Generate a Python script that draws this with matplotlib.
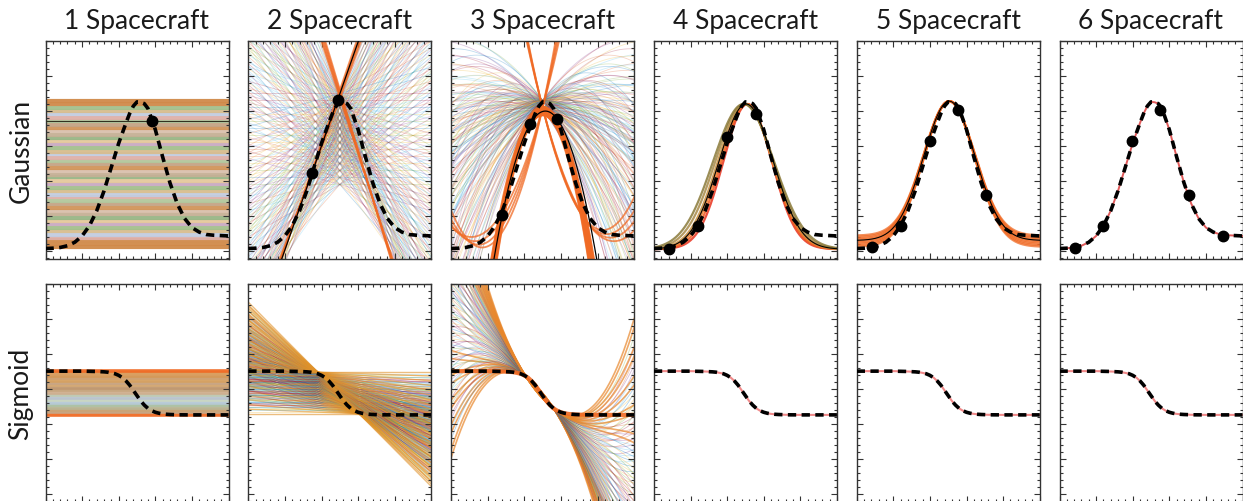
import numpy as np
import matplotlib
matplotlib.use("Agg")
import matplotlib.pyplot as plt
from matplotlib.ticker import MultipleLocator

# ---------------- data ----------------
titles = ["1 Spacecraft", "2 Spacecraft", "3 Spacecraft",
          "4 Spacecraft", "5 Spacecraft", "6 Spacecraft"]
row_labels = ["Gaussian", "Sigmoid"]

# true profiles (dashed)
gauss_x = [0.0, 0.2, 0.4, 0.6, 0.8, 1.0, 1.2, 1.4, 1.6, 1.8, 2.0, 2.2, 2.3, 2.4,
           2.5, 2.6, 2.7, 2.8, 3.0, 3.2, 3.4, 3.6, 3.8, 4.0, 4.2, 4.4, 4.6, 4.8, 5.0]
gauss_y = [0.07, 0.08, 0.10, 0.15, 0.25, 0.43, 0.72, 1.15, 1.72, 2.40, 3.08, 3.66, 3.93, 4.14,
           4.26, 4.25, 4.21, 4.07, 3.47, 2.69, 1.95, 1.35, 0.93, 0.67, 0.54, 0.47, 0.45, 0.44, 0.43]
sig_x = [0.0, 0.5, 1.0, 1.4, 1.6, 1.7, 1.8, 1.9, 2.0, 2.1, 2.2, 2.3, 2.4, 2.5, 2.6,
         2.7, 2.8, 2.9, 3.0, 3.1, 3.2, 3.3, 3.4, 3.6, 4.0, 4.5, 5.0]
sig_y = [3.51, 3.51, 3.51, 3.50, 3.49, 3.48, 3.46, 3.435, 3.39, 3.325, 3.23, 3.11, 2.96, 2.81, 2.66,
         2.54, 2.445, 2.38, 2.335, 2.307, 2.289, 2.278, 2.271, 2.263, 2.26, 2.26, 2.26]

# spacecraft samples (Gaussian row)
dots_x = [[2.91], [1.74, 2.44], [1.40, 2.16, 2.90],
          [0.41, 1.20, 2.00, 2.80],
          [0.41, 1.20, 2.00, 2.78, 3.52],
          [0.41, 1.18, 1.98, 2.75, 3.53, 4.47]]
dots_y = [[3.71], [2.23, 4.31], [1.04, 3.63, 3.77],
          [0.06, 0.72, 3.27, 3.92],
          [0.10, 0.72, 3.13, 4.04, 1.60],
          [0.09, 0.71, 3.14, 4.04, 1.60, 0.44]]

# ---- ensemble of fits, panel 1 (constant fits) ----
p1_gauss_levels = [0.10, 0.19, 0.30, 0.38, 0.47, 0.58, 0.66, 0.77, 0.86, 0.94, 1.05, 1.15, 1.23,
                   1.34, 1.42, 1.53, 1.61, 1.72, 1.80, 1.91, 2.00, 2.10, 2.18, 2.29, 2.37, 2.48,
                   2.57, 2.66, 2.76, 2.84, 2.95, 3.05, 3.13, 3.24, 3.32, 3.43, 3.52, 3.61, 3.71,
                   3.79, 3.90, 3.99, 4.08, 4.19, 4.29]
p1_gauss_best = 3.71
p1_sig_levels = [2.26, 2.33, 2.40, 2.47, 2.54, 2.61, 2.68, 2.75, 2.82, 2.89, 2.96, 3.03, 3.10,
                 3.17, 3.24, 3.31, 3.38, 3.45, 3.51]

# ---- panel 2 (linear fits) ----
p2_gauss_pivot_x = 2.5
p2_gauss_centres = [1.90, 2.10, 2.30, 2.50, 2.70, 2.90, 3.10, 3.30, 3.50, 3.70, 3.90,
                    4.10, 4.30, 4.50]
p2_gauss_slopes = [-3.3, -3.0, -2.7, -2.4, -2.1, -1.8, -1.5, -1.2, -0.9, -0.6, -0.3, 0.0,
                   0.3, 0.6, 0.9, 1.2, 1.5, 1.8, 2.1, 2.4, 2.7, 3.0, 3.3]
p2_slope_floor, p2_slope_gain = 1.45, 0.70
p2_arm_centres = [4.36, 4.42, 4.48, 4.54, 4.60, 4.38, 4.44, 4.50, 4.56, 4.62]
p2_arm_slopes = [2.80, 2.86, 2.92, 2.98, 3.04, -3.20, -3.27, -3.34, -3.41, -3.48]

p2_sig_x = [1.90, 3.03]
p2_sig_values = [2.29, 2.34, 2.39, 2.44, 2.49, 2.54, 2.59, 2.64, 2.69, 2.74, 2.79, 2.84, 2.89,
                 2.94, 2.99, 3.04, 3.09, 3.14, 3.19, 3.24, 3.29, 3.34, 3.39, 3.44, 3.48]

# ---- panel 3 (quadratic fits) ----
p3_pivot_x = 2.5
p3_pivot_heights = [4.05, 4.30]
p3_vertex_offsets = [-3.0, -2.4, -1.8, -1.2, -0.8, -0.4, 0.0, 0.4, 0.8, 1.2, 1.8, 2.4, 3.0]
p3_curvatures = [0.08, 0.15, 0.22, 0.30, 0.40, 0.55, 0.75, 1.00]
p3_limit = 1.54
p3_core_heights = [3.88, 3.94, 4.00, 4.06, 4.12]
p3_core_curvatures = [2.2, 2.35, 2.5, 2.65]
p3_up_vx = [0.55, 0.65, 0.75, 0.85, 4.15, 4.25, 4.35, 4.45]
p3_up_vy = [0.40, 0.28, 0.18, 0.10, 0.60, 0.48, 0.38, 0.28]
p3_up_through = 4.1

p3_sig_p1 = (2.08, 3.30)
p3_sig_p2 = (2.80, 2.445)
p3_sig_alpha = [-0.57, -0.53, -0.48, -0.43, -0.38, -0.33, -0.28, -0.23, -0.18, -0.13, -0.08,
                -0.03, 0.02, 0.07, 0.12, 0.17, 0.22, 0.27, 0.32, 0.37, 0.42, 0.47, 0.51, 0.55]
p3_sig_beta = [-0.10, -0.05, 0.0, 0.05, 0.10]

# ---- panel 4 (Gaussian fits) ----
p4_centres = [2.56, 2.54, 2.52, 2.50, 2.47, 2.45]
p4_sigmas = [0.66, 0.69, 0.72, 0.75, 0.79, 0.83]
p4_colours = ["#e8321e", "#f05a1e", "#e87a28", "#c89040", "#a88a48", "#8a7a3a"]
p4_amp, p4_base = 4.15, 0.05
p4_best = (2.52, 0.74)

# ---- panel 5 (Gaussian + offset fits) ----
p5_bases = [0.12, 0.16, 0.20, 0.24, 0.28, 0.32, 0.36, 0.40, 0.44]
p5_peak, p5_centre, p5_sigma = 4.28, 2.53, 0.70
p5_best_base = 0.30

palette = ["#0072BD", "#D95319", "#EDB120", "#7E2F8E", "#77AC30", "#4DBEEE", "#A2142F"]
stripe_palette = ["#d1955a", "#c4a485", "#b2c79c", "#deb0a8", "#c2cde0", "#d8bd8e",
                  "#a3c08c", "#c9aac2", "#e5c99c", "#98b686", "#c5b095", "#d9c0ad"]
sig_stripe_palette = ["#d89a5a", "#c4a07c", "#c9a476", "#b8b494", "#a9bfa0", "#b6c9d6",
                      "#c6d4c0", "#b9c3cf", "#bcc8b0", "#cfae8e", "#c4a27a", "#c09870",
                      "#d2a56e", "#c8a584", "#d5a060", "#cc9c6c", "#d49858"]
orange = "#F06A24"

# ---------------- figure ----------------
W, H = 1243, 502
fig = plt.figure(figsize=(W / 100, H / 100), dpi=100)
plt.rcParams["font.family"] = ["Lato", "DejaVu Sans"]

panel_left_px = [45.5, 248.3, 451.1, 653.9, 856.7, 1059.5]
panel_w_px, panel_h_px = 183, 218
row_top_px = [42, 285]

axes = [[None] * 6 for _ in range(2)]
for r in range(2):
    for c in range(6):
        l = panel_left_px[c] / W
        b = 1 - (row_top_px[r] + panel_h_px) / H
        ax = fig.add_axes([l, b, panel_w_px / W, panel_h_px / H])
        ax.set_xlim(0, 5)
        ax.set_ylim(-0.229, 6.0)
        ax.xaxis.set_major_locator(MultipleLocator(1))
        ax.xaxis.set_minor_locator(MultipleLocator(0.2))
        ax.yaxis.set_major_locator(MultipleLocator(1))
        ax.yaxis.set_minor_locator(MultipleLocator(0.2))
        ax.tick_params(which="both", direction="in", top=True, right=True,
                       labelbottom=False, labelleft=False, color="#333333", width=0.8)
        ax.tick_params(which="major", length=4)
        ax.tick_params(which="minor", length=2)
        for sp in ax.spines.values():
            sp.set_color("#333333")
            sp.set_linewidth(1.0)
        axes[r][c] = ax

xx = np.linspace(0, 5, 400)
fan_kw = dict(lw=0.6, alpha=0.25, zorder=1)


def dashed(ax, x, y):
    ax.plot(x, y, color="black", lw=2.6, dashes=(2.3, 1.5), zorder=4)


# ---- Gaussian row ----
ax = axes[0][0]
for i, lev in enumerate(p1_gauss_levels):
    col = "#d08a4a" if i in (0, 1, 2, len(p1_gauss_levels) - 1, len(p1_gauss_levels) - 2) \
        else stripe_palette[i % len(stripe_palette)]
    ax.plot([0, 5], [lev, lev], color=col, lw=3.0, alpha=0.95, zorder=1)
ax.plot([0, 5], [p1_gauss_best, p1_gauss_best], color="#333322", lw=0.8, zorder=3)

ax = axes[0][1]
k = 0
for yc in p2_gauss_centres:
    for s in p2_gauss_slopes:
        if abs(s) <= p2_slope_floor + p2_slope_gain * (yc - p2_gauss_centres[0]):
            ax.plot([0, 5], [yc - s * p2_gauss_pivot_x, yc + s * (5 - p2_gauss_pivot_x)],
                    color=palette[k % 7], **fan_kw)
            k += 1
for yc, s in zip(p2_arm_centres, p2_arm_slopes):
    ax.plot([0, 5], [yc - s * p2_gauss_pivot_x, yc + s * (5 - p2_gauss_pivot_x)],
            color=orange, lw=1.3, alpha=0.7, zorder=2)
cf = np.polyfit(dots_x[1], dots_y[1], 1)
ax.plot(xx, np.polyval(cf, xx), color="black", lw=0.9, zorder=3)

ax = axes[0][2]
k = 0
for C in p3_pivot_heights:
    for u in p3_vertex_offsets:
        for a in p3_curvatures:
            if a * (1.6 * abs(u) + 0.64) <= p3_limit:
                d = xx - p3_pivot_x
                ax.plot(xx, C - a * (2 * d * u + d ** 2), color=palette[k % 7], **fan_kw)
                k += 1
for C in p3_core_heights:
    for a in p3_core_curvatures:
        ax.plot(xx, C - a * (xx - p3_pivot_x) ** 2, color=orange, lw=1.3, alpha=0.75, zorder=2)
for vx, vy in zip(p3_up_vx, p3_up_vy):
    kk = (p3_up_through - vy) / (p3_pivot_x - vx) ** 2
    ax.plot(xx, vy + kk * (xx - vx) ** 2, color=orange, lw=1.3, alpha=0.75, zorder=2)
cf = np.polyfit(dots_x[2], dots_y[2], 2)
ax.plot(xx, np.polyval(cf, xx), color="black", lw=0.9, zorder=3)

ax = axes[0][3]
for cen, sg, col in zip(p4_centres, p4_sigmas, p4_colours):
    ax.plot(xx, p4_base + p4_amp * np.exp(-(xx - cen) ** 2 / (2 * sg ** 2)),
            color=col, lw=1.6, alpha=0.85, zorder=2)
ax.plot(xx, p4_base + p4_amp * np.exp(-(xx - p4_best[0]) ** 2 / (2 * p4_best[1] ** 2)),
        color="black", lw=0.8, zorder=3)

ax = axes[0][4]
for bs in p5_bases:
    ax.plot(xx, bs + (p5_peak - bs) * np.exp(-(xx - p5_centre) ** 2 / (2 * p5_sigma ** 2)),
            color=orange, lw=1.6, alpha=0.75, zorder=2)
ax.plot(xx, p5_best_base + (p5_peak - p5_best_base) *
        np.exp(-(xx - p5_centre) ** 2 / (2 * p5_sigma ** 2)),
        color="black", lw=0.8, zorder=3)

ax = axes[0][5]
ax.plot(gauss_x, gauss_y, color="#e05a5a", lw=1.4, zorder=2)

for c in range(6):
    ax = axes[0][c]
    dashed(ax, gauss_x, gauss_y)
    ax.plot(dots_x[c], dots_y[c], "o", color="black", ms=7.5, zorder=5)

# ---- Sigmoid row ----
ax = axes[1][0]
for i, lev in enumerate(p1_sig_levels):
    edge = i in (0, len(p1_sig_levels) - 1)
    col = orange if edge else sig_stripe_palette[i % len(sig_stripe_palette)]
    ax.plot([0, 5], [lev, lev], color=col, lw=2.6, alpha=0.95, zorder=1)

ax = axes[1][1]
x1, x2 = p2_sig_x
k = 0
for v1 in p2_sig_values:
    for v2 in p2_sig_values:
        if v1 >= v2:
            s = (v2 - v1) / (x2 - x1)
            edge = v1 == p2_sig_values[-1] or v2 == p2_sig_values[0]
            ax.plot([0, 5], [v1 - s * x1, v1 + s * (5 - x1)],
                    color="#e0922a" if edge else palette[k % 7],
                    lw=1.0 if edge else 0.6, alpha=0.6 if edge else 0.3, zorder=1)
            k += 1

ax = axes[1][2]
(xa, ya), (xb, yb) = p3_sig_p1, p3_sig_p2
line = ya + (yb - ya) / (xb - xa) * (xx - xa)
k = 0
for al in p3_sig_alpha:
    for be in p3_sig_beta:
        yv = line + (xx - xa) * (xx - xb) * (al + be * (xx - 0.5 * (xa + xb)))
        edge = al in (p3_sig_alpha[0], p3_sig_alpha[1], p3_sig_alpha[-1], p3_sig_alpha[-2])
        ax.plot(xx, yv, color="#e8862a" if edge else palette[k % 7],
                lw=1.2 if edge else 0.6, alpha=0.7 if edge else 0.3, zorder=1)
        k += 1
ax.plot(sig_x, sig_y, color=orange, lw=3.0, alpha=0.9, zorder=2)

for c in (3, 4, 5):
    axes[1][c].plot(sig_x, sig_y, color="#f08a8a", lw=1.5, zorder=2)

for c in range(6):
    dashed(axes[1][c], sig_x, sig_y)

# ---- text ----
for c in range(6):
    xc = (panel_left_px[c] + panel_w_px / 2) / W
    fig.text(xc, 1 - 21 / H, titles[c], ha="center", va="center", fontsize=19, color="#1a1a1a")
for r in range(2):
    yc = 1 - (row_top_px[r] + panel_h_px / 2) / H
    fig.text(21 / W, yc, row_labels[r], ha="center", va="center", rotation=90,
             fontsize=19, color="#1a1a1a")

fig.savefig("out.png", dpi=100)
